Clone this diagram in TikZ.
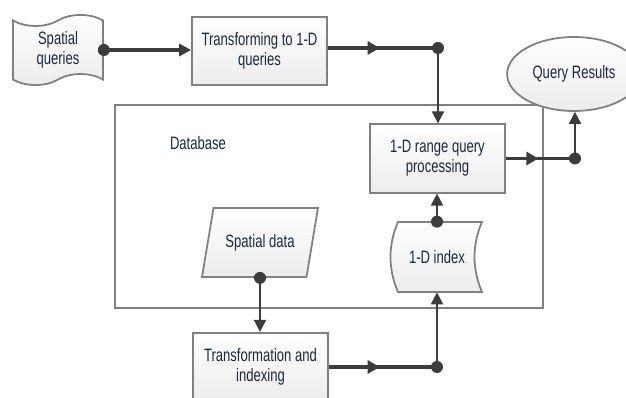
\documentclass[tikz,border=0pt]{standalone}
\usepackage{fontspec}
\setmainfont{Liberation Sans}[FakeStretch=0.73]
\usepackage{xcolor}
\usetikzlibrary{arrows.meta,shapes.geometric,shapes.symbols,decorations.markings,calc}

\definecolor{boxline}{RGB}{128,128,128}
\definecolor{boxfill}{RGB}{236,236,236}
\definecolor{wire}{RGB}{60,60,60}
\definecolor{txtcol}{RGB}{28,40,62}

\begin{document}
\begin{tikzpicture}[
    x=0.02cm, y=-0.02cm,
    every node/.style={font=\fontsize{10.2}{11.2}\selectfont, text=txtcol, align=center},
    box/.style={draw=boxline, line width=1pt, top color=white, bottom color=boxfill, minimum width=2.7cm, minimum height=1.37cm},
    shapeline/.style={draw=boxline, line width=1pt, top color=white, bottom color=boxfill},
    dot/.style={circle, fill=wire, inner sep=0pt, minimum size=0.24cm},
    wireh/.style={draw=wire, line width=1.8pt},
    wirev/.style={draw=wire, line width=1.1pt},
    tip/.style={-{Triangle[length=2.4mm,width=2.4mm]}},
    midarrow/.style={postaction={decorate}, decoration={markings, mark=at position 0.47 with {\arrow{Triangle[length=2.4mm,width=2.6mm]}}}}
]
\useasboundingbox (0,0) rectangle (626,398);

% database frame
\node[draw=boxline, line width=1pt, minimum width=8.56cm, minimum height=4.06cm] (db) at (329,206.5) {};
\node (dbtext) at (198,143) {Database};

% shapes
\node[tape, shapeline, tape bend top=in and out, tape bend bottom=in and out, tape bend height=0.22cm, minimum width=1.8cm, minimum height=1.2cm] (sq) at (58,50) {Spatial\\queries};
\node[box] (trans1) at (259.5,51) {Transforming to 1-D\\queries};
\node[box] (range) at (437.5,158.5) {1-D range query\\processing};
\node[ellipse, shapeline, minimum width=2.28cm, minimum height=1.48cm] (res) at (574,74) {Query Results};
\node[trapezium, shapeline, trapezium left angle=68, trapezium right angle=112, trapezium stretches body, minimum width=2.32cm, minimum height=1.38cm] (sdata) at (260,242.5) {Spatial data};
\draw[shapeline] (398,222) -- (482,222) .. controls (472,245) and (472,269) .. (482,292) -- (398,292) .. controls (388,269) and (388,245) .. (398,222) -- cycle;
\node[minimum width=1.78cm, minimum height=1.4cm, inner sep=0pt] (idx) at (437,257) {1-D index};
\node[box] (trans2) at (260.5,367) {Transformation and\\indexing};

% junctions
\coordinate (j1) at (438,48);
\coordinate (j2) at (575,158.5);
\coordinate (j3) at (437,367);

% connectors
\draw[wireh, tip] (sq.east) -- (trans1.west |- sq.east);
\draw[wireh, midarrow] (trans1.east |- j1) -- (j1);
\draw[wirev, tip] (j1) -- (range.north -| j1);
\draw[wireh, midarrow] (range.east) -- (j2);
\draw[wirev, tip] (j2) -- (j2 |- res.south);
\draw[wirev, tip] (sdata.south) -- (trans2.north -| sdata.south);
\draw[wireh, midarrow] (trans2.east) -- (j3);
\draw[wirev, tip] (j3) -- (idx.south);
\draw[wirev, tip] (idx.north) -- (range.south -| idx.north);

\node[dot] (d0) at (sq.east) {};
\node[dot] (d1) at (j1) {};
\node[dot] (d2) at (j2) {};
\node[dot] (d3) at (j3) {};
\node[dot] (d4) at (sdata.south) {};
\node[dot] (d5) at (idx.north) {};

\end{tikzpicture}
\end{document}
